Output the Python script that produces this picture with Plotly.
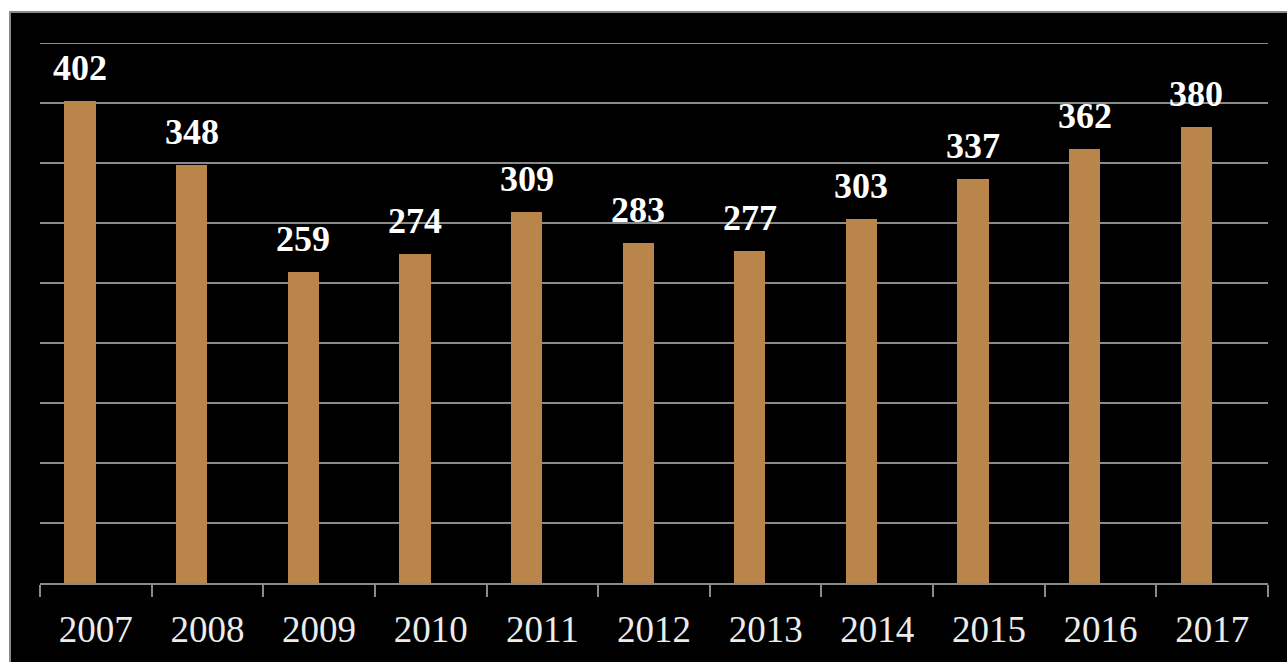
import plotly.graph_objects as go

years = ["2007", "2008", "2009", "2010", "2011", "2012", "2013", "2014", "2015", "2016", "2017"]
values = [402, 348, 259, 274, 309, 283, 277, 303, 337, 362, 380]

W, H = 1287, 662
ml, mr, mt, mb = 40, 19, 43, 79
plot_w = W - ml - mr
plot_h = H - mt - mb

bar_w = 0.28
bar_off = -0.282
center = bar_off + bar_w / 2

fig = go.Figure()
fig.add_trace(go.Bar(
    x=years, y=values,
    width=bar_w, offset=bar_off,
    marker=dict(color="#B9854A", line=dict(width=0)),
    hoverinfo="skip",
))

for i, v in enumerate(values):
    fig.add_annotation(
        x=i + center, y=v, xref="x", yref="y",
        text="<b>%d</b>" % v, showarrow=False,
        xanchor="center", yanchor="bottom",
        yshift=11,
        font=dict(family="Liberation Serif, Times New Roman, serif", size=36, color="white"),
    )

# black panel with gray border (extends beyond plot area)
fig.add_shape(
    type="rect", xref="paper", yref="paper", layer="below",
    x0=(10 - ml) / plot_w, x1=(W + 5 - ml) / plot_w,
    y0=-(H + 5 - (mt + plot_h)) / plot_h, y1=((mt + plot_h) - 12) / plot_h,
    fillcolor="black", line=dict(color="#8a8a8a", width=2),
)

# top gridline (at the range maximum)
fig.add_shape(
    type="line", xref="paper", yref="y", layer="below",
    x0=0, x1=1, y0=450, y1=450,
    line=dict(color="#8a8a8a", width=2),
)

fig.update_layout(
    width=W, height=H,
    margin=dict(l=ml, r=mr, t=mt, b=mb, autoexpand=False),
    paper_bgcolor="white", plot_bgcolor="black",
    showlegend=False,
    bargap=0,
    xaxis=dict(
        type="category",
        range=[-0.5, len(years) - 0.5],
        automargin=False,
        tickangle=0,
        showgrid=False,
        showline=True, linecolor="#8a8a8a", linewidth=2,
        ticks="outside", tickson="boundaries", ticklen=12, tickwidth=2, tickcolor="#8a8a8a",
        tickfont=dict(family="Liberation Serif, Times New Roman, serif", size=37, color="#ececec"),
        ticklabelstandoff=13,
        zeroline=False,
    ),
    yaxis=dict(
        range=[0, 450], dtick=50,
        automargin=False,
        showgrid=True, gridcolor="#8a8a8a", gridwidth=2,
        showticklabels=False, ticks="",
        zeroline=False, showline=False,
    ),
)

fig.write_html("out.html")
